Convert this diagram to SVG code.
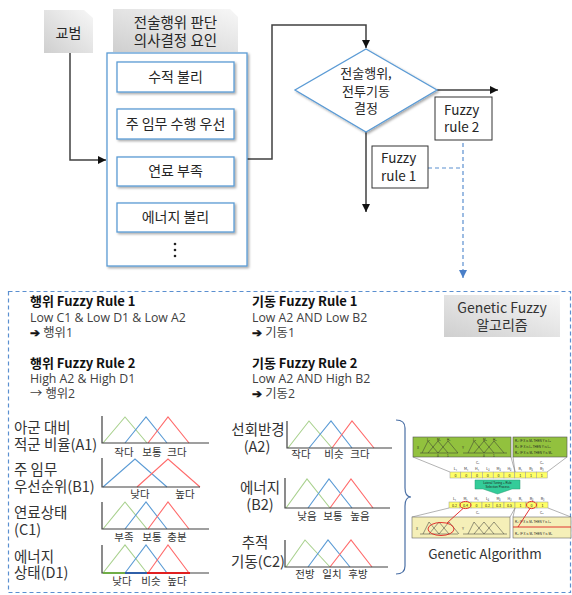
<svg xmlns="http://www.w3.org/2000/svg" width="572" height="595" viewBox="0 0 572 595">
<style>
text{font-family:"Noto Sans CJK KR","Noto Sans",sans-serif;fill:#262626}
.box{fill:#fff;stroke:#5b9bd5;stroke-width:1.3}
.conn{fill:none;stroke:#404040;stroke-width:1.5}
.dash{fill:none;stroke:#5b8fd0;stroke-width:1.2;stroke-dasharray:4 3}
.lbl{font-size:14px;text-anchor:middle}
.fz{font-size:13.5px}
.rt{font-size:13px;font-weight:bold;fill:#111}
.rb{font-family:"Open Sans","Noto Sans CJK KR",sans-serif;font-size:12.3px;font-weight:normal;fill:#404040}
.ar{font-family:"DejaVu Sans",sans-serif;font-size:12px;fill:#111;stroke:#111;stroke-width:0.5}
.ml{font-size:14.5px;fill:#333}
.cl{font-size:10.5px;text-anchor:middle;fill:#333}
.ax{fill:none;stroke:#404040;stroke-width:1.2}
.g{fill:none;stroke:#a9d18e;stroke-width:1.1}
.b{fill:none;stroke:#5b9bd5;stroke-width:1.1}
.r{fill:none;stroke:#ff6b6b;stroke-width:1.1}
.t3{font-family:"Liberation Sans",sans-serif;font-size:3px;fill:#222}
.t4{font-family:"Liberation Sans",sans-serif;font-size:3.6px;fill:#222;text-anchor:middle}
</style>
<defs>
<linearGradient id="gray" x1="1" y1="0" x2="0" y2="1">
<stop offset="0" stop-color="#f7f7f7"/><stop offset="1" stop-color="#cfcfcf"/>
</linearGradient>
<filter id="sh" x="-10%" y="-10%" width="130%" height="130%">
<feDropShadow dx="1.5" dy="1.5" stdDeviation="1.2" flood-color="#000" flood-opacity="0.35"/>
</filter>
<marker id="ah" markerWidth="8" markerHeight="8" refX="8" refY="4" orient="auto" markerUnits="userSpaceOnUse">
<path d="M0,0 L8,4 L0,8 z" fill="#111"/>
</marker>
<marker id="ahb" markerWidth="8" markerHeight="8" refX="8" refY="4" orient="auto" markerUnits="userSpaceOnUse">
<path d="M0,0 L8,4 L0,8 z" fill="#4a7fc8"/>
</marker>
</defs>

<g id="connectors">
<path class="conn" d="M70,53 V160 H106" marker-end="url(#ah)" stroke="#555"/>
<path class="conn" d="M247,159 H272 V25 H366 V48" marker-end="url(#ah)"/>
<path class="conn" d="M437,90 H498" marker-end="url(#ah)"/>
<path class="conn" d="M366,132 V212" marker-end="url(#ah)" stroke="#555"/>
<path class="dash" d="M428,168 H463"/>
<path class="dash" d="M463,143 V278" marker-end="url(#ahb)"/>
</g>

<g id="gyobeom">
<path d="M44,10 H84 L93,18 V53 H44 z" fill="url(#gray)"/>
<text class="lbl" x="68.5" y="38">교범</text>
</g>

<g id="title">
<path d="M113,9 H230 L238,17 V52 H113 z" fill="url(#gray)"/>
<text class="lbl" style="font-size:14.5px"><tspan x="175.5" y="28">전술행위 판단</tspan><tspan x="175.5" y="46">의사결정 요인</tspan></text>
</g>

<g id="factors">
<rect class="box" x="107" y="53" width="140" height="213" filter="url(#sh)"/>
<rect class="box" x="117" y="62" width="117" height="30" filter="url(#sh)"/>
<text class="lbl" x="175.5" y="82">수적 불리</text>
<rect class="box" x="117" y="109" width="117" height="30" filter="url(#sh)"/>
<text class="lbl" x="175.5" y="129">주 임무 수행 우선</text>
<rect class="box" x="117" y="157" width="117" height="29" filter="url(#sh)"/>
<text class="lbl" x="175.5" y="176">연료 부족</text>
<rect class="box" x="117" y="203" width="117" height="29" filter="url(#sh)"/>
<text class="lbl" x="175.5" y="222">에너지 불리</text>
<circle cx="175" cy="244" r="1.3" fill="#222"/>
<circle cx="175" cy="250" r="1.3" fill="#222"/>
<circle cx="175" cy="256" r="1.3" fill="#222"/>
</g>

<g id="decision">
<path class="box" d="M366,49 L437,90 L366,132 L295,90 z" filter="url(#sh)"/>
<text class="lbl" style="font-size:13px"><tspan x="366" y="78">전술행위,</tspan><tspan x="366" y="96">전투기동</tspan><tspan x="366" y="113">결정</tspan></text>
</g>

<g id="fuzzy-rule-2">
<rect x="435" y="97" width="57" height="43" fill="#fff" stroke="#333" stroke-width="1"/>
<text class="fz"><tspan x="444" y="115">Fuzzy</tspan><tspan x="444" y="132">rule 2</tspan></text>
</g>

<g id="fuzzy-rule-1">
<rect x="372" y="146" width="56" height="42" fill="#fff" stroke="#333" stroke-width="1"/>
<text class="fz"><tspan x="381" y="163">Fuzzy</tspan><tspan x="381" y="181">rule 1</tspan></text>
</g>

<g id="gfa-panel">
<rect x="8.5" y="291.5" width="562" height="301" class="dash"/>
</g>

<g id="rules">
<text class="rt"><tspan x="30" y="306">행위 Fuzzy Rule 1</tspan><tspan class="rb" x="30" y="322">Low C1 &amp; Low D1 &amp; Low A2</tspan><tspan class="rb" x="30" y="337"><tspan class="ar">➔</tspan> 행위1</tspan></text>
<text class="rt"><tspan x="30" y="368">행위 Fuzzy Rule 2</tspan><tspan class="rb" x="30" y="383">High A2 &amp; High D1</tspan><tspan class="rb" x="30" y="398">→ 행위2</tspan></text>
<text class="rt"><tspan x="252" y="306">기동 Fuzzy Rule 1</tspan><tspan class="rb" x="252" y="322">Low A2 AND Low B2</tspan><tspan class="rb" x="252" y="337"><tspan class="ar">➔</tspan> 기동1</tspan></text>
<text class="rt"><tspan x="252" y="368">기동 Fuzzy Rule 2</tspan><tspan class="rb" x="252" y="383">Low A2 AND High B2</tspan><tspan class="rb" x="252" y="398"><tspan class="ar">➔</tspan> 기동2</tspan></text>
</g>

<g id="gfa-label">
<rect x="444" y="295" width="116" height="42" fill="url(#gray)"/>
<text class="lbl" style="font-size:14px;fill:#333"><tspan x="502" y="313">Genetic Fuzzy</tspan><tspan x="502" y="330">알고리즘</tspan></text>
</g>

<g id="mf-A1">
<text class="ml"><tspan x="14" y="433">아군 대비</tspan><tspan x="14" y="450">적군 비율(A1)</tspan></text>
<path class="g" d="M103,443 L125,417 L147,443"/>
<path class="b" d="M125,443 L146,417 L167,443"/>
<path class="r" d="M148,443 L168,417 L189,443"/>
<path class="ax" d="M102,416 V443 H209"/>
<text class="cl" x="124" y="456">작다</text>
<text class="cl" x="152" y="456">보통</text>
<text class="cl" x="177" y="456">크다</text>
</g>

<g id="mf-B1">
<text class="ml"><tspan x="14" y="475">주 임무</tspan><tspan x="14" y="492">우선순위(B1)</tspan></text>
<path class="b" d="M103,487 L135,459 L167,487"/>
<path class="r" d="M137,487 L168,459 L200,487"/>
<path class="ax" d="M102,458 V487 H200"/>
<text class="cl" x="140" y="498">낮다</text>
<text class="cl" x="185" y="498">높다</text>
</g>

<g id="mf-C1">
<text class="ml"><tspan x="14" y="518">연료상태</tspan><tspan x="14" y="535">(C1)</tspan></text>
<path class="g" d="M103,529 L125,502 L147,529"/>
<path class="b" d="M125,529 L146,502 L167,529"/>
<path class="r" d="M148,529 L168,502 L189,529"/>
<path class="ax" d="M102,502 V529 H209"/>
<text class="cl" x="124" y="541">부족</text>
<text class="cl" x="152" y="541">보통</text>
<text class="cl" x="177" y="541">충분</text>
</g>

<g id="mf-D1">
<text class="ml"><tspan x="14" y="562">에너지</tspan><tspan x="14" y="578">상태(D1)</tspan></text>
<path class="g" d="M103,573 L125,545 L147,573"/>
<path class="b" d="M125,573 L146,545 L167,573"/>
<path class="r" d="M148,573 L168,545 L189,573"/>
<path class="ax" d="M102,545 V573 H209"/>
<path d="M103,573 H125" stroke="#70ad47" stroke-width="2"/>
<path d="M125,573 H147" stroke="#2f5fa8" stroke-width="2"/>
<path d="M147,573 H190" stroke="#e02020" stroke-width="2"/>
<text class="cl" x="122" y="585">낮다</text>
<text class="cl" x="151" y="585">비슷</text>
<text class="cl" x="177" y="585">높다</text>
</g>

<g id="mf-A2">
<text class="ml" text-anchor="middle"><tspan x="258" y="435">선회반경</tspan><tspan x="257" y="452">(A2)</tspan></text>
<path class="g" d="M288,448 L309,421 L332,448"/>
<path class="b" d="M309,448 L331,421 L352,448"/>
<path class="r" d="M332,448 L352,421 L374,448"/>
<path class="ax" d="M287,421 V448 H392"/>
<text class="cl" x="301" y="458">작다</text>
<text class="cl" x="334" y="458">비슷</text>
<text class="cl" x="360" y="458">크다</text>
</g>

<g id="mf-B2">
<text class="ml" text-anchor="middle"><tspan x="260" y="493">에너지</tspan><tspan x="260" y="510">(B2)</tspan></text>
<path class="g" d="M286,508 L307,479 L330,508"/>
<path class="b" d="M308,508 L329,479 L352,508"/>
<path class="r" d="M330,508 L351,479 L373,508"/>
<path class="ax" d="M285,478 V508 H390"/>
<text class="cl" x="307" y="520">낮음</text>
<text class="cl" x="333" y="520">보통</text>
<text class="cl" x="360" y="520">높음</text>
</g>

<g id="mf-C2">
<text class="ml" text-anchor="middle"><tspan x="255" y="548">추적</tspan><tspan x="258" y="567">기동(C2)</tspan></text>
<path class="g" d="M286,567 L305,540 L330,567"/>
<path class="b" d="M308,567 L328,540 L350,567"/>
<path class="r" d="M330,567 L351,540 L372,567"/>
<path class="ax" d="M285,540 V567 H388"/>
<text class="cl" x="305" y="578">전방</text>
<text class="cl" x="332" y="578">일치</text>
<text class="cl" x="358" y="578">후방</text>
</g>

<g id="brace">
<path d="M396,420 Q405,420 405,428 V488 Q405,497 411,497 Q405,497 405,506 V566 Q405,574 396,574" fill="none" stroke="#4a6fa5" stroke-width="1.2"/>
</g>

<g id="genetic-algorithm">
<rect x="413" y="437" width="98" height="20" fill="#92c13e" stroke="#555" stroke-width="0.6"/>
<rect x="513" y="437" width="54" height="20" fill="#92c13e" stroke="#555" stroke-width="0.6"/>
<g fill="none" stroke="#333" stroke-width="0.5">
<path d="M420,453 H458 M463,453 H507"/>
<path d="M422,453 L428,441 L438,453 M428,453 L438,441 L448,453 M438,453 L448,441 L458,453"/>
<path d="M468,453 L474,441 L484,453 M474,453 L484,441 L494,453 M484,453 L494,441 L504,453"/>
</g>
<text class="t3" x="417" y="449">X</text><text class="t3" x="462" y="449">Y</text>
<text class="t3" x="427" y="441">L₁</text><text class="t3" x="437" y="441">M₁</text><text class="t3" x="447" y="441">H₁</text>
<text class="t3" x="473" y="441">L₂</text><text class="t3" x="483" y="441">M₂</text><text class="t3" x="493" y="441">H₂</text>
<text class="t3" x="437" y="456.5">0</text><text class="t3" x="447" y="456.5">1</text>
<text class="t3" x="483" y="456.5">0</text><text class="t3" x="493" y="456.5">1</text>
<text class="t3"><tspan x="515" y="442">R₁: IF X is M₁ THEN Y is L₂</tspan><tspan x="515" y="448">R₂: IF X is L₁ THEN Y is L₂</tspan><tspan x="515" y="454">R₃: IF X is M₁ THEN Y is M₂</tspan></text>
<g stroke="#666" stroke-width="0.5" fill="none">
<path d="M413,457 L450,472 M511,457 L515,472 M513,457 L515,472 M567,457 L547,472"/>
<path d="M449,508 L412,517 M515,508 L510,517 M515,508 L513,517 M548,508 L571,517"/>
</g>
<text class="t3" x="476" y="464">C₁</text><text class="t3" x="540" y="464">C₂</text>
<g class="t4">
<text x="455.4" y="470">L₁</text><text x="466.2" y="470">M₁</text><text x="477" y="470">H₁</text><text x="487.8" y="470">L₂</text><text x="498.6" y="470">M₂</text><text x="509.4" y="470">H₂</text><text x="520.2" y="470">R₁</text><text x="531" y="470">R₂</text><text x="541.8" y="470">R₃</text>
</g>
<g fill="#ffff66" stroke="#999" stroke-width="0.5">
<rect x="450" y="472" width="10.8" height="6"/><rect x="460.8" y="472" width="10.8" height="6"/><rect x="471.6" y="472" width="10.8" height="6"/><rect x="482.4" y="472" width="10.8" height="6"/><rect x="493.2" y="472" width="10.8" height="6"/><rect x="504" y="472" width="10.8" height="6"/><rect x="514.8" y="472" width="10.8" height="6"/><rect x="525.6" y="472" width="10.8" height="6"/><rect x="536.4" y="472" width="10.8" height="6"/>
</g>
<g class="t4">
<text x="455.4" y="476.6">0</text><text x="466.2" y="476.6">0</text><text x="477" y="476.6">0</text><text x="487.8" y="476.6">0</text><text x="498.6" y="476.6">0</text><text x="509.4" y="476.6">0</text><text x="520.2" y="476.6">1</text><text x="531" y="476.6">1</text><text x="541.8" y="476.6">1</text>
</g>
<path d="M475,480 H520 V489 H512 L497.5,494 L483,489 H475 z" fill="#33cc99" stroke="#2a9a70" stroke-width="0.5"/>
<text class="t4" style="font-size:3px"><tspan x="497.5" y="484">Lateral Tuning + Rule</tspan><tspan x="497.5" y="488">Selection Process</tspan></text>
<g class="t4">
<text x="454.5" y="500">L₁</text><text x="465.5" y="500">M₁</text><text x="476.5" y="500">H₁</text><text x="487.5" y="500">L₂</text><text x="498.5" y="500">M₂</text><text x="509.5" y="500">H₂</text><text x="520.5" y="500">R₁</text><text x="531.5" y="500">R₂</text><text x="542.5" y="500">R₃</text>
</g>
<g fill="#ffff66" stroke="#999" stroke-width="0.5">
<rect x="449" y="502" width="11" height="6"/><rect x="460" y="502" width="11" height="6"/><rect x="471" y="502" width="11" height="6"/><rect x="482" y="502" width="11" height="6"/><rect x="493" y="502" width="11" height="6"/><rect x="504" y="502" width="11" height="6"/><rect x="515" y="502" width="11" height="6"/><rect x="526" y="502" width="11" height="6"/><rect x="537" y="502" width="11" height="6"/>
</g>
<g class="t4">
<text x="454.5" y="506.6">0.2</text><text x="465.5" y="506.6">0.4</text><text x="476.5" y="506.6">0</text><text x="487.5" y="506.6">0.2</text><text x="498.5" y="506.6">0.3</text><text x="509.5" y="506.6">0.5</text><text x="520.5" y="506.6">1</text><text x="531.5" y="506.6">0</text><text x="542.5" y="506.6">1</text>
</g>
<text class="t3" x="476" y="514">C₁</text><text class="t3" x="540" y="514">C₂</text>
<rect x="412" y="517" width="98" height="21" fill="#f5efb8" stroke="#666" stroke-width="0.6"/>
<rect x="513" y="517" width="58" height="21" fill="#f5efb8" stroke="#666" stroke-width="0.6"/>
<g fill="none" stroke="#333" stroke-width="0.5">
<path d="M420,534 H458 M463,534 H507"/>
<path d="M423,534 L429,522 L439,534 M429,534 L439,522 L449,534 M439,534 L449,522 L459,534"/>
<path d="M468,534 L474,522 L484,534 M474,534 L484,522 L494,534 M484,534 L494,522 L504,534"/>
</g>
<text class="t3" x="416" y="530">X</text><text class="t3" x="462" y="530">Y</text>
<text class="t3"><tspan x="515" y="523">R₁: IF X is M₁ THEN Y is L₂</tspan><tspan x="515" y="535">R₃: IF X is M₁ THEN Y is M₂</tspan></text>
<g fill="none" stroke="#e02020" stroke-width="0.9">
<ellipse cx="465.5" cy="505" rx="5.5" ry="3.6"/>
<ellipse cx="531.5" cy="505" rx="5" ry="3.6"/>
<ellipse cx="441" cy="529" rx="13" ry="6.5"/>
<path d="M463,508.5 L447,523"/>
<path d="M530,508.5 L518,527"/>
<path d="M513,527 H571"/>
</g>
<text x="485" y="559" text-anchor="middle" style="font-size:13.5px;fill:#333">Genetic Algorithm</text>
</g>
</svg>
